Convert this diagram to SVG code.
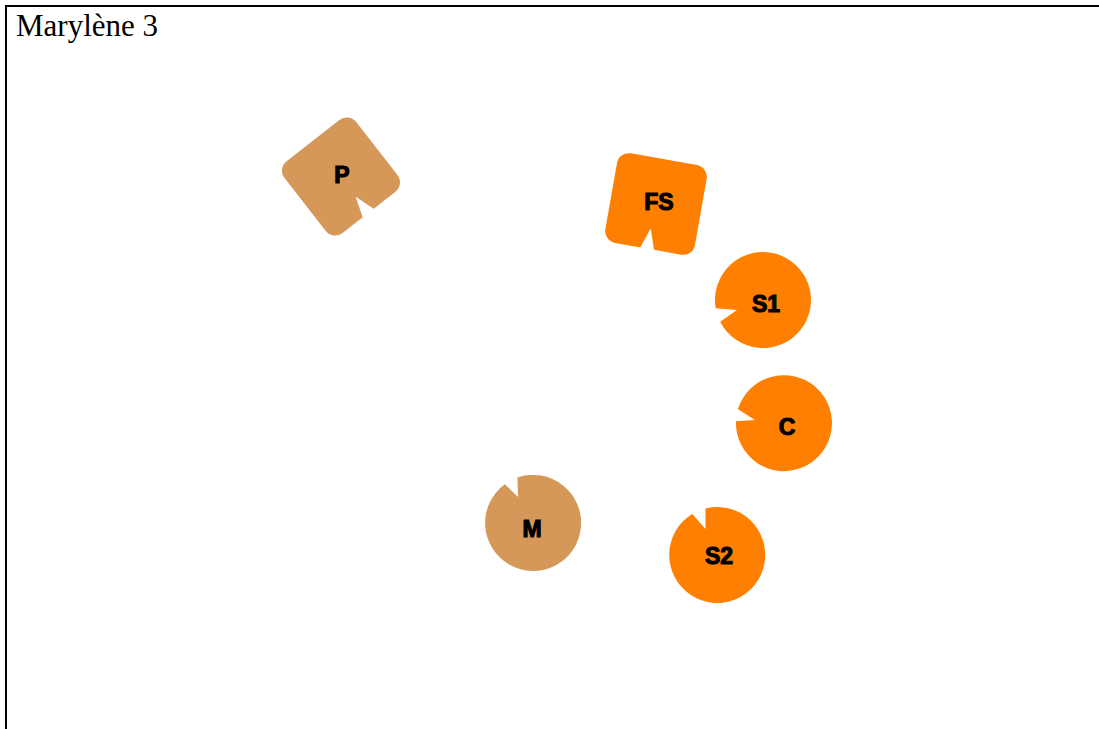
<svg xmlns="http://www.w3.org/2000/svg" width="1099" height="729" viewBox="0 0 1099 729">
<style>
.orange{fill:#FF8000;}
.tan{fill:#D59859;}
.lbl{font-family:"Liberation Sans",Arial,sans-serif;font-weight:bold;font-size:23px;fill:#000;stroke:#000;stroke-width:1.1;text-anchor:middle;}
.title{font-family:"Liberation Serif","Times New Roman",serif;font-size:31px;fill:#000;}
</style>
<defs>
<path id="notchSquare" d="M -33.5,-45.5 H 33.5 A12,12 0 0 1 45.5,-33.5 V 33.5 A12,12 0 0 1 33.5,45.5 H 6 L -1,25 L -8,45.5 H -33.5 A12,12 0 0 1 -45.5,33.5 V -33.5 A12,12 0 0 1 -33.5,-45.5 Z"/>
</defs>
<rect x="0" y="0" width="1099" height="729" fill="#fff"/>
<rect x="6" y="6" width="1100" height="730" fill="none" stroke="#000" stroke-width="2"/>
<text class="title" x="16" y="36">Marylène 3</text>
<g id="connectors"></g>
<g id="node-P">
<use href="#notchSquare" class="tan" transform="translate(341,176.5) rotate(-38)"/>
<text class="lbl" x="342" y="183">P</text>
</g>
<g id="node-FS">
<use href="#notchSquare" class="orange" transform="translate(656,204) rotate(10)"/>
<text class="lbl" x="659" y="210">FS</text>
</g>
<g id="node-S1">
<path class="orange" d="M 715.7,308.3 L 737,310 L 720.2,321.8 A48,48 0 1 0 715.7,308.3 Z"/>
<text class="lbl" x="766" y="312">S1</text>
</g>
<g id="node-C">
<path class="orange" d="M 738,409.3 L 755,420 L 736,421.3 A48,48 0 1 0 738,409.3 Z"/>
<text class="lbl" x="787" y="435">C</text>
</g>
<g id="node-M">
<path class="tan" d="M 504.8,484.2 L 518,497 L 517.4,477.6 A48,48 0 1 1 504.8,484.2 Z"/>
<text class="lbl" x="532" y="537">M</text>
</g>
<g id="node-S2">
<path class="orange" d="M 692.3,513.9 L 705.5,529 L 705.4,508.4 A48,48 0 1 1 692.3,513.9 Z"/>
<text class="lbl" x="719" y="564">S2</text>
</g>
</svg>
